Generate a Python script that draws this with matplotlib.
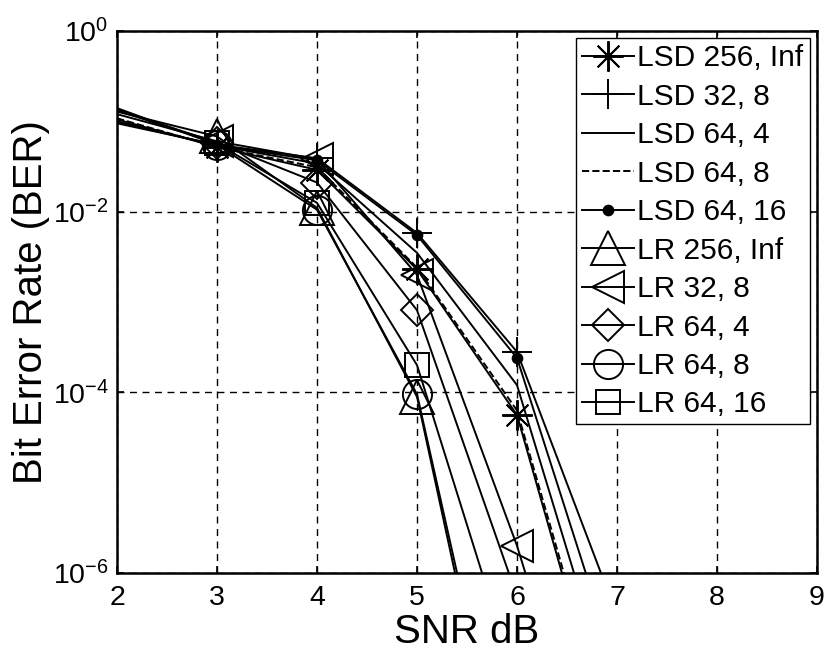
import matplotlib
matplotlib.use("Agg")
import matplotlib.pyplot as plt

plt.rcParams['font.family'] = ['Liberation Sans', 'DejaVu Sans']
plt.rcParams['mathtext.fontset'] = 'custom'
plt.rcParams['mathtext.rm'] = 'Liberation Sans'
plt.rcParams['mathtext.it'] = 'Liberation Sans'

snr = [2, 3, 4, 5, 6, 7]

# BER values (curves leave the axes below 1e-6)
lsd_256_inf = [0.105, 0.052, 0.029, 0.0023, 5.6e-5, 7.2e-9]
lsd_32_8    = [0.095, 0.055, 0.039, 0.0058, 2.8e-4, 3.4e-7]
lsd_64_4    = [0.100, 0.054, 0.034, 0.0035, 1.2e-4, 2.7e-8]
lsd_64_8    = [0.108, 0.052, 0.031, 0.0024, 6.3e-5, 9.1e-9]
lsd_64_16   = [0.098, 0.054, 0.037, 0.0055, 2.4e-4, 8.3e-8]
lr_256_inf  = [0.128, 0.068, 0.011, 8.9e-5, 6.6e-10, 1e-14]
lr_32_8     = [0.120, 0.060, 0.038, 0.0020, 2.0e-6, 5.1e-10]
lr_64_4     = [0.135, 0.058, 0.021, 8.1e-4, 5.5e-7, 1e-12]
lr_64_8     = [0.140, 0.055, 0.0105, 9.5e-5, 1.1e-9, 1e-14]
lr_64_16    = [0.132, 0.057, 0.0125, 2.0e-4, 5.8e-8, 1e-13]

# data, label, linestyle, marker, marker size
series = [
    (lsd_256_inf, 'LSD 256, Inf', '-', (8, 2, 0), 22),
    (lsd_32_8, 'LSD 32, 8', '-', '+', 22),
    (lsd_64_4, 'LSD 64, 4', '-', None, 0),
    (lsd_64_8, 'LSD 64, 8', '--', None, 0),
    (lsd_64_16, 'LSD 64, 16', '-', '.', 14),
    (lr_256_inf, 'LR 256, Inf', '-', '^', 24),
    (lr_32_8, 'LR 32, 8', '-', '<', 23),
    (lr_64_4, 'LR 64, 4', '-', 'D', 16),
    (lr_64_8, 'LR 64, 8', '-', 'o', 21),
    (lr_64_16, 'LR 64, 16', '-', 's', 17),
]

fig = plt.figure(figsize=(8.27, 6.52), dpi=100)
ax = fig.add_axes([0.1415, 0.1212, 0.8464, 0.8313])

for vals, label, ls, mk, ms in series:
    face = 'k' if mk == '.' else 'none'
    ax.semilogy(snr, vals, ls, color='k', lw=1.4, marker=mk, ms=ms, mew=1.4,
                mfc=face, markevery=[1, 2, 3, 4], label=label)

ax.set_xlim(2, 9)
ax.set_ylim(1e-6, 1)
ax.set_yticks([1e-6, 1e-4, 1e-2, 1])
ax.yaxis.set_minor_locator(matplotlib.ticker.NullLocator())
ax.set_xticks(range(2, 10))
ax.grid(True, which='major', color='k', linestyle=(0, (5, 4)), lw=1.0)
ax.tick_params(direction='in', length=5, width=1.2, top=True, right=True, labelsize=20.5)
ax.tick_params(axis='x', pad=9)
ax.tick_params(axis='y', pad=6)
for sp in ax.spines.values():
    sp.set_linewidth(1.8)

ax.set_xlabel('SNR dB', fontsize=29, labelpad=1)
ax.set_ylabel('Bit Error Rate (BER)', fontsize=29, labelpad=2)

leg = ax.legend(loc='upper right', fontsize=21.5, numpoints=1, handlelength=1.75,
                handletextpad=0.12, labelspacing=0.35, borderpad=0.2,
                borderaxespad=0.25, fancybox=False, framealpha=1,
                edgecolor='k')
leg.get_frame().set_linewidth(1.0)

fig.savefig('out.png', dpi=100)
